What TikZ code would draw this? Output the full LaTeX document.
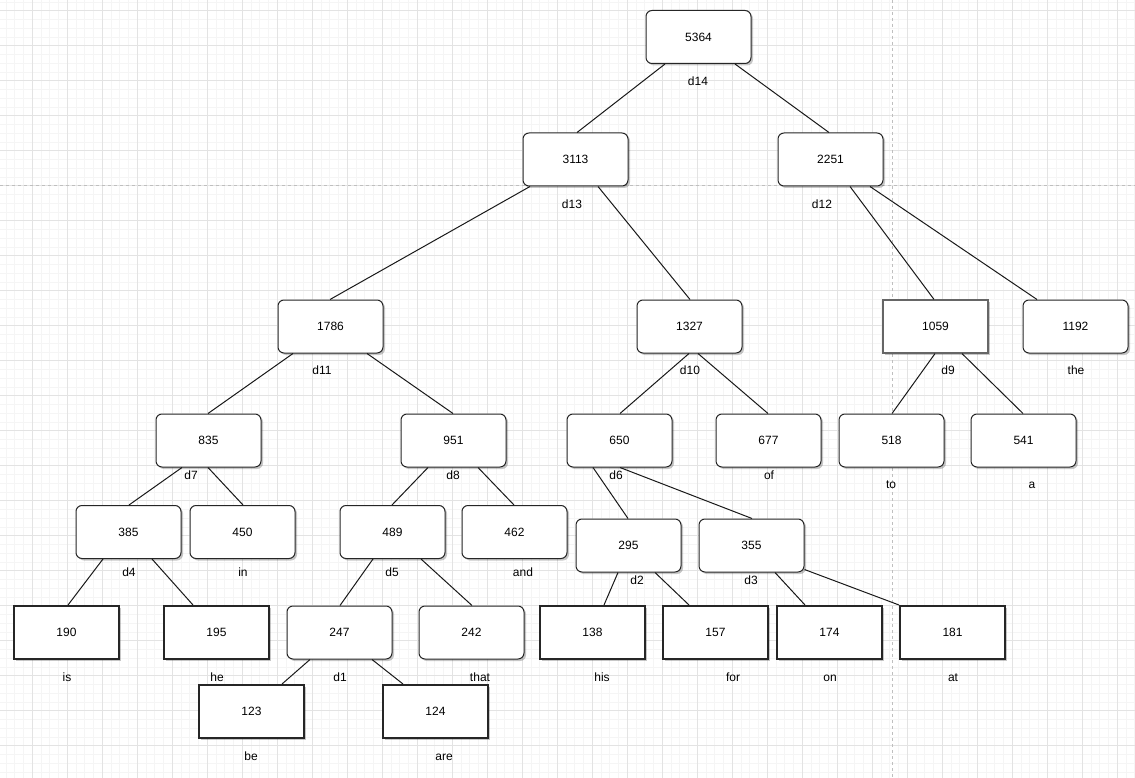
\documentclass[tikz,border=0pt]{standalone}
\usepackage{fontspec}
\setmainfont{Liberation Sans}
\usetikzlibrary{shadows}
\begin{document}
\begin{tikzpicture}[x=1pt,y=-1pt,
  base/.style={minimum width=105pt,minimum height=53pt,inner sep=0pt,fill=white,
    font=\fontsize{12}{14}\selectfont,text height=8.6pt,text depth=0pt,
    drop shadow={shadow xshift=2pt,shadow yshift=-2pt,opacity=0.22,fill=black}},
  rbox/.style={base,draw=black!85,line width=1pt,rounded corners=6pt},
  sbox/.style={base,draw=black!60,line width=1.2pt},
  tbox/.style={base,draw=black!85,line width=2pt},
  lbl/.style={font=\fontsize{12}{14}\selectfont,inner sep=0pt,text height=8.6pt,text depth=0pt},
  edge/.style={line width=1pt,draw=black!90},
  gridminor/.style={line width=0.8pt,draw=black!4},
  gridmajor/.style={line width=1pt,draw=black!11},
  pagebreak/.style={line width=1pt,draw=black!25,dash pattern=on 3pt off 3pt},
]
\useasboundingbox (0,0) rectangle (1135,778);
\begin{scope}
\clip (0,0) rectangle (1135,778);
\fill[white] (0,0) rectangle (1135,778);
\foreach \i in {0,...,129} \draw[gridminor] ({6.05+8.75*\i},0) -- ({6.05+8.75*\i},778);
\foreach \i in {0,...,89} \draw[gridminor] (0,{1.95+8.75*\i}) -- (1135,{1.95+8.75*\i});
\foreach \i in {0,...,31} \draw[gridmajor] ({32.3+35*\i},0) -- ({32.3+35*\i},778);
\foreach \i in {0,...,22} \draw[gridmajor] (0,{10.7+35*\i}) -- (1135,{10.7+35*\i});
\draw[pagebreak] (0,186) -- (1135,186);
\draw[pagebreak] (892,0) -- (892,778);
\end{scope}

% boxes
\node[rbox] (n5364) at (698.5,37) {5364};
\node[rbox] (n3113) at (575.5,159.5) {3113};
\node[rbox] (n2251) at (830.5,159.5) {2251};
\node[rbox] (n1786) at (330.5,326.5) {1786};
\node[rbox] (n1327) at (689.5,326.5) {1327};
\node[sbox] (n1059) at (935.5,326.5) {1059};
\node[rbox] (n1192) at (1075.5,326.5) {1192};
\node[rbox] (n835) at (208.5,440.5) {835};
\node[rbox] (n951) at (453.5,440.5) {951};
\node[rbox] (n650) at (619.5,440.5) {650};
\node[rbox] (n677) at (768.5,440.5) {677};
\node[rbox] (n518) at (891.5,440.5) {518};
\node[rbox] (n541) at (1023.5,440.5) {541};
\node[rbox] (n385) at (128.5,532) {385};
\node[rbox] (n450) at (242.5,532) {450};
\node[rbox] (n489) at (392.5,532) {489};
\node[rbox] (n462) at (514.5,532) {462};
\node[rbox] (n295) at (628.5,545.5) {295};
\node[rbox] (n355) at (751.5,545.5) {355};
\node[tbox] (n190) at (66.5,632.5) {190};
\node[tbox] (n195) at (216.5,632.5) {195};
\node[rbox] (n247) at (339.5,632.5) {247};
\node[rbox] (n242) at (471.5,632.5) {242};
\node[tbox] (n138) at (592.5,632.5) {138};
\node[tbox] (n157) at (715.5,632.5) {157};
\node[tbox] (n174) at (829.5,632.5) {174};
\node[tbox] (n181) at (952.5,632.5) {181};
\node[tbox] (n123) at (251.5,711.5) {123};
\node[tbox] (n124) at (435.5,711.5) {124};

% labels
\node[lbl] (l14) at (698,81) {d14};
\node[lbl] (l13) at (572,204) {d13};
\node[lbl] (l12) at (822,204) {d12};
\node[lbl] (l11) at (322,370) {d11};
\node[lbl] (l10) at (690,370) {d10};
\node[lbl] (l9) at (948,370) {d9};
\node[lbl] (lthe) at (1076,370) {the};
\node[lbl] (l7) at (191,475) {d7};
\node[lbl] (l8) at (453,475) {d8};
\node[lbl] (l6) at (616,475) {d6};
\node[lbl] (lof) at (769,475) {of};
\node[lbl] (lto) at (891,484) {to};
\node[lbl] (la) at (1032,484) {a};
\node[lbl] (l4) at (129,572) {d4};
\node[lbl] (lin) at (243,572) {in};
\node[lbl] (l5) at (392,572) {d5};
\node[lbl] (land) at (523,572) {and};
\node[lbl] (l2) at (637,580) {d2};
\node[lbl] (l3) at (751,580) {d3};
\node[lbl] (lis) at (67,677) {is};
\node[lbl] (lhe) at (217,677) {he};
\node[lbl] (l1) at (340,677) {d1};
\node[lbl] (lthat) at (480,677) {that};
\node[lbl] (lhis) at (602,677) {his};
\node[lbl] (lfor) at (733,677) {for};
\node[lbl] (lon) at (830,677) {on};
\node[lbl] (lat) at (953,677) {at};
\node[lbl] (lbe) at (251,756) {be};
\node[lbl] (lare) at (444,756) {are};

% edges
\draw[edge] ([xshift=-33.5pt]n5364.south) -- ([xshift=1.5pt]n3113.north);
\draw[edge] ([xshift=36.5pt]n5364.south) -- ([xshift=-1.5pt]n2251.north);
\draw[edge] ([xshift=-45.5pt]n3113.south) -- ([xshift=-0.5pt]n1786.north);
\draw[edge] ([xshift=22.5pt]n3113.south) -- ([xshift=0.5pt]n1327.north);
\draw[edge] ([xshift=19.5pt]n2251.south) -- ([xshift=-1.5pt]n1059.north);
\draw[edge] ([xshift=39.5pt]n2251.south) -- ([xshift=-38.5pt]n1192.north);
\draw[edge] ([xshift=-37.5pt]n1786.south) -- ([xshift=-0.5pt]n835.north);
\draw[edge] ([xshift=36.5pt]n1786.south) -- ([xshift=-0.5pt]n951.north);
\draw[edge] ([xshift=-0.5pt]n1327.south) -- ([xshift=0.5pt]n650.north);
\draw[edge] ([xshift=8.5pt]n1327.south) -- ([xshift=-0.5pt]n677.north);
\draw[edge] ([xshift=-0.5pt]n1059.south) -- ([xshift=0.5pt]n518.north);
\draw[edge] ([xshift=26.5pt]n1059.south) -- ([xshift=-0.5pt]n541.north);
\draw[edge] ([xshift=-26.5pt]n835.south) -- ([xshift=0.5pt]n385.north);
\draw[edge] ([xshift=-0.5pt]n835.south) -- ([xshift=0.5pt]n450.north);
\draw[edge] ([xshift=-25.5pt]n951.south) -- ([xshift=-0.5pt]n489.north);
\draw[edge] ([xshift=24.5pt]n951.south) -- ([xshift=-0.5pt]n462.north);
\draw[edge] ([xshift=-26.5pt]n650.south) -- ([xshift=-0.5pt]n295.north);
\draw[edge] ([xshift=0.5pt]n650.south) -- ([xshift=0.5pt]n355.north);
\draw[edge] ([xshift=-25.5pt]n385.south) -- ([xshift=1.5pt]n190.north);
\draw[edge] ([xshift=23.5pt]n385.south) -- ([xshift=-23.5pt]n195.north);
\draw[edge] ([xshift=-19.5pt]n489.south) -- ([xshift=0.5pt]n247.north);
\draw[edge] ([xshift=28.5pt]n489.south) -- ([xshift=0.5pt]n242.north);
\draw[edge] ([xshift=-10.5pt]n295.south) -- ([xshift=11.5pt]n138.north);
\draw[edge] ([xshift=26.5pt]n295.south) -- ([xshift=-26.5pt]n157.north);
\draw[edge] ([xshift=23.5pt]n355.south) -- ([xshift=-24.5pt]n174.north);
\draw[edge] ([yshift=3pt]n355.south east) -- (n181.north west);
\draw[edge] ([xshift=-29.5pt]n247.south) -- ([xshift=30.5pt]n123.north);
\draw[edge] ([xshift=32.5pt]n247.south) -- ([xshift=-32.5pt]n124.north);
\end{tikzpicture}
\end{document}
